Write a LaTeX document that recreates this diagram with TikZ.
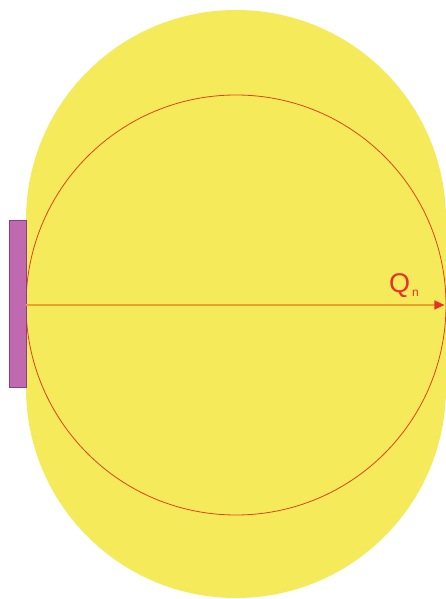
\documentclass[tikz,border=0pt]{standalone}
\usepackage{xcolor}
\usepackage{fontspec}
\setsansfont{Liberation Sans}
\usepackage{tikz}
\usetikzlibrary{arrows.meta}

\definecolor{fieldyellow}{HTML}{F5EA5A}
\definecolor{orbitred}{HTML}{E0401E}
\definecolor{axisorange}{HTML}{F0A02A}
\definecolor{plateviolet}{HTML}{C068B0}
\definecolor{plateedge}{HTML}{8A3C8E}
\definecolor{labelred}{HTML}{E8302A}

\begin{document}
\begin{tikzpicture}[x=1pt, y=1pt]
    \useasboundingbox (0, 0) rectangle (446, 599);

    % yellow field
    \fill[fieldyellow] (26, 211) -- (26, 379) arc[start angle=180, end angle=0, radius=210]
        -- (446, 211) arc[start angle=0, end angle=-180, radius=210] -- cycle;

    \node[draw=orbitred, line width=0.8pt, circle, minimum size=420pt, inner sep=0pt] at (236, 294) (orbit) {};
    \node[draw=plateedge, fill=plateviolet, line width=0.8pt, minimum width=17pt, minimum height=167pt, inner sep=0pt, anchor=south west] at (9, 211) (plate) {};
    \node[text=labelred, font=\sffamily\fontsize{27}{27}\selectfont, inner sep=0pt] at (404, 313) (q) {Q\raisebox{-4pt}{\fontsize{12}{12}\selectfont\hspace{2pt}n}};

    \draw[axisorange, line width=1.6pt, -{Triangle[length=10pt, width=9pt, fill=labelred, color=labelred]}] (orbit.west) -- ([xshift=-2pt]orbit.east);
\end{tikzpicture}
\end{document}
